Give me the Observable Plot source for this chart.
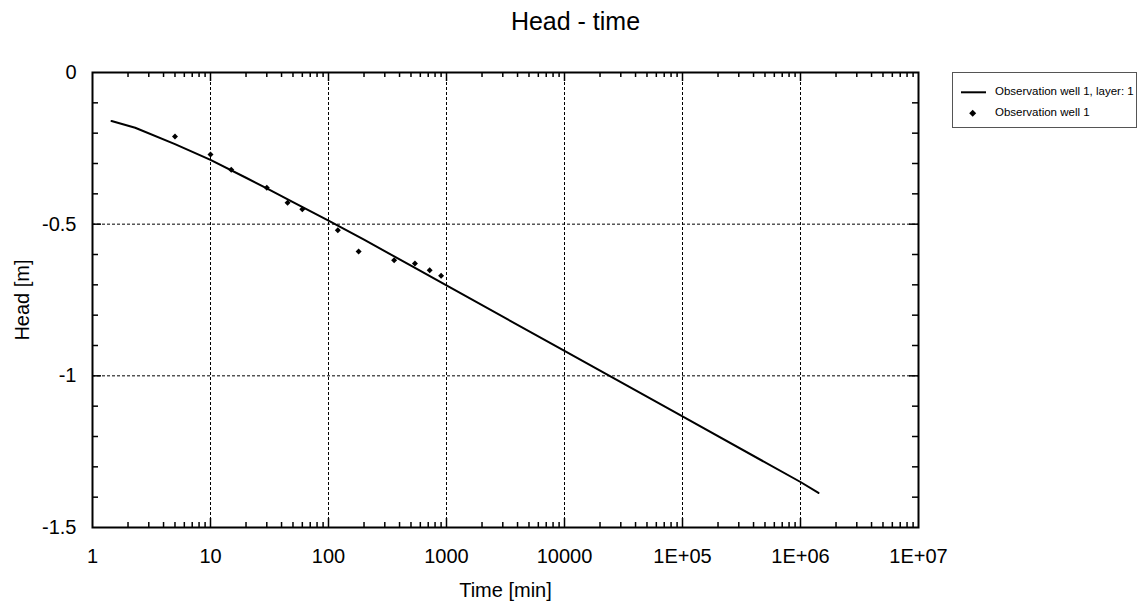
<!DOCTYPE html>
<html>
<head>
<meta charset="utf-8">
<script src="https://cdn.jsdelivr.net/npm/d3@7"></script>
<script src="https://cdn.jsdelivr.net/npm/@observablehq/plot@0.6"></script>
<style>
  html, body { margin: 0; padding: 0; background: #fff; }
  #wrap { position: relative; width: 1137px; height: 605px; overflow: hidden; font-family: "Liberation Sans", Arial, sans-serif; }
  #title { position: absolute; left: 0; width: 1151px; top: 9px; text-align: center; font-size: 25px; line-height: 25px; color: #000; }
  #chart { position: absolute; left: 0; top: 0; }
  #legend { position: absolute; left: 0; top: 0; }
</style>
</head>
<body>
<div id="wrap">
  <div id="chart"></div>
  <div id="title">Head - time</div>
  <div id="legend"></div>
</div>
<script>
// ---- data ----
const lineTime = [1.45, 2.3, 5, 10, 20, 30, 50, 100, 200, 500, 1000, 10000, 100000, 1000000, 1420000];
const lineHead = [-0.160, -0.182, -0.236, -0.288, -0.347, -0.382, -0.427, -0.488, -0.551, -0.637, -0.702, -0.918, -1.134, -1.350, -1.386];

const obsTime = [5, 10, 15, 30, 45, 60, 120, 180, 360, 540, 720, 900];
const obsHead = [-0.211, -0.270, -0.321, -0.380, -0.429, -0.451, -0.520, -0.590, -0.619, -0.630, -0.652, -0.670];

const xTicks = [1, 10, 100, 1000, 10000, 100000, 1000000, 10000000];
const xTickLabels = ["1", "10", "100", "1000", "10000", "1E+05", "1E+06", "1E+07"];
const yTicks = [0, -0.5, -1, -1.5];
const yTickLabels = ["0", "-0.5", "-1", "-1.5"];

const lineName = "Observation well 1, layer: 1";
const pointName = "Observation well 1";
const xLabel = "Time [min]";
const yLabel = "Head [m]";

// ---- build tables ----
const lineData = lineTime.map((t, i) => ({t, h: lineHead[i]}));
const obsData = obsTime.map((t, i) => ({t, h: obsHead[i]}));

// axis furniture (minor/major inward ticks)
const W = 1137, H = 605, mL = 92, mR = 219, mT = 72, mB = 78;
const pxPerDecade = (W - mL - mR) / 7;
const pxPerUnit = (H - mT - mB) / 1.5;
const xf = px => Math.pow(10, px / pxPerDecade);
const yu = px => px / pxPerUnit;

const xMinor = [];
for (let k = 0; k < 7; k++) for (let m = 2; m <= 9; m++) xMinor.push(m * Math.pow(10, k));
const xMajor = xTicks.slice(1, -1);
const yMinor = d3.range(1, 15).filter(v => v % 5 !== 0).map(v => -v / 10);
const yMajor = yTicks.slice(1, -1);

const tickStyle = {stroke: "#000", strokeWidth: 1.5};
const gridStyle = {stroke: "#000", strokeOpacity: 1, strokeWidth: 1, strokeDasharray: "3,2"};

const chart = Plot.plot({
  width: W, height: H,
  marginLeft: mL, marginRight: mR, marginTop: mT, marginBottom: mB,
  style: {fontFamily: "'Liberation Sans', Arial, sans-serif", fontSize: "20px", color: "#000", background: "transparent", overflow: "visible"},
  x: {type: "log", domain: [1, 1e7]},
  y: {domain: [-1.5, 0]},
  marks: [
    Plot.gridX(xMajor, gridStyle),
    Plot.gridY(yMajor, gridStyle),
    // bottom & top x ticks
    Plot.ruleX(xMinor, {x: d => d, y1: -1.5, y2: -1.5 + yu(5), ...tickStyle}),
    Plot.ruleX(xMinor, {x: d => d, y1: 0, y2: -yu(5), ...tickStyle}),
    Plot.ruleX(xMajor, {x: d => d, y1: -1.5, y2: -1.5 + yu(9), ...tickStyle}),
    Plot.ruleX(xMajor, {x: d => d, y1: 0, y2: -yu(9), ...tickStyle}),
    // left & right y ticks
    Plot.ruleY(yMinor, {y: d => d, x1: 1, x2: xf(6), ...tickStyle}),
    Plot.ruleY(yMinor, {y: d => d, x1: 1e7, x2: 1e7 / xf(6), ...tickStyle}),
    Plot.ruleY(yMajor, {y: d => d, x1: 1, x2: xf(9), ...tickStyle}),
    Plot.ruleY(yMajor, {y: d => d, x1: 1e7, x2: 1e7 / xf(9), ...tickStyle}),
    Plot.axisX({ticks: xTicks, tickFormat: d => xTickLabels[xTicks.indexOf(d)], tickSize: 0, tickPadding: 21, label: null}),
    Plot.axisY({ticks: yTicks, tickFormat: d => yTickLabels[yTicks.indexOf(d)], tickSize: 0, tickPadding: 16, label: null}),
    Plot.line(lineData, {x: "t", y: "h", stroke: "#000", strokeWidth: 2}),
    Plot.dot(obsData, {x: "t", y: "h", symbol: "diamond2", r: 2.7, fill: "#000", stroke: "none"}),
    Plot.frame({stroke: "#000", strokeWidth: 2}),
    Plot.text([xLabel], {frameAnchor: "bottom", text: d => d, dy: 69, lineAnchor: "bottom", textAnchor: "middle", fontSize: 20, fill: "#000"}),
    Plot.text([yLabel], {frameAnchor: "left", text: d => d, dx: -70, rotate: -90, lineAnchor: "middle", textAnchor: "middle", fontSize: 20, fill: "#000"})
  ]
});
document.getElementById("chart").appendChild(chart);

// ---- legend (HTML overlay) ----
const ns = "http://www.w3.org/2000/svg";
const lg = document.createElementNS(ns, "svg");
lg.setAttribute("width", W); lg.setAttribute("height", 140);
lg.style.fontFamily = "'Liberation Sans', Arial, sans-serif";
function el(name, attrs, text) {
  const e = document.createElementNS(ns, name);
  for (const k in attrs) e.setAttribute(k, attrs[k]);
  if (text != null) e.textContent = text;
  lg.appendChild(e);
  return e;
}
el("rect", {x: 952.5, y: 72.5, width: 184, height: 55, fill: "#fff", stroke: "#555", "stroke-width": 1});
el("line", {x1: 961, x2: 986, y1: 92.3, y2: 92.3, stroke: "#000", "stroke-width": 2});
el("text", {x: 995, y: 90.7, "dominant-baseline": "central", "font-size": 11.5, fill: "#000"}, lineName);
el("path", {d: "M972.7,109.8L976.2,113.3L972.7,116.8L969.2,113.3Z", fill: "#000"});
el("text", {x: 995, y: 112.3, "dominant-baseline": "central", "font-size": 11.5, fill: "#000"}, pointName);
document.getElementById("legend").appendChild(lg);
</script>
</body>
</html>
